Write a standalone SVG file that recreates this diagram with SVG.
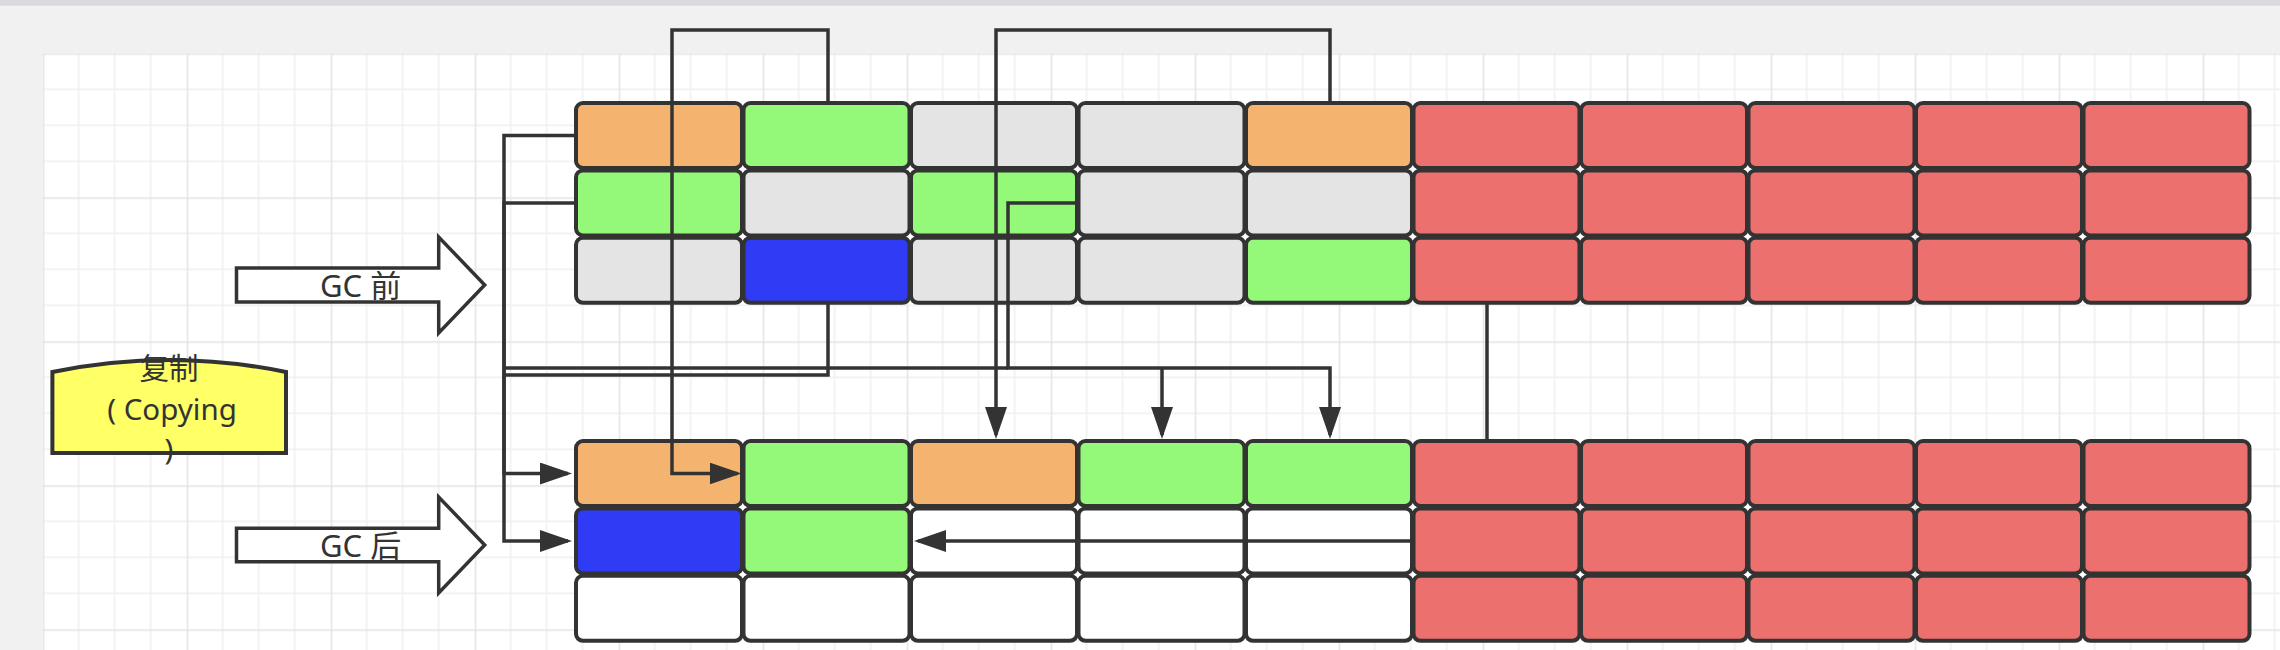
<svg xmlns="http://www.w3.org/2000/svg" width="2280" height="650" viewBox="0 0 2280 650">
<style>
.c{stroke:#333;stroke-width:4}
.or{fill:#F4B470}.gr{fill:#94F978}.gy{fill:#E4E4E4}.bl{fill:#2F3BF5}.rd{fill:#EC706E}.wh{fill:#FFFFFF}
.ln{fill:none;stroke:#333;stroke-width:3.5;stroke-linejoin:miter}
.t{font-family:'Noto Sans','Noto Sans CJK SC',sans-serif;fill:#333;font-size:31px;text-anchor:middle}
.t2{font-size:29.5px}
.ba{fill:#fff;stroke:#333;stroke-width:3.5}
</style>
<defs>
<pattern id="grid" x="42.7" y="53.3" width="144" height="144" patternUnits="userSpaceOnUse">
<rect width="144" height="144" fill="#fff"/>
<path d="M36,0V144M72,0V144M108,0V144M0,36H144M0,72H144M0,108H144" stroke="#efefef" stroke-width="1.5"/>
<path d="M0.75,0V144M0,0.75H144" stroke="#e4e4e4" stroke-width="1.5"/>
</pattern>
<marker id="arr" markerUnits="userSpaceOnUse" markerWidth="34" markerHeight="24" refX="28" refY="11" orient="auto">
<path d="M0,0L32,11L0,22Z" fill="#333"/>
</marker>
</defs>
<g id="background">
<rect width="2280" height="650" fill="#f1f1f1"/>
<rect width="2280" height="5.7" fill="#dadade"/>
<rect x="42.7" y="53.3" width="2237.3" height="596.7" fill="url(#grid)"/>
</g>
<g id="label-copying">
<path d="M52.4,372Q169,348 286,372V453H52.4Z" fill="#FFFF66" stroke="#333" stroke-width="4"/>
<text class="t t2"><tspan x="169" y="379">复制</tspan><tspan x="172" y="419.5">( Copying</tspan><tspan x="169" y="460">)</tspan></text>
</g>
<g id="gc-before">
<path class="ba" d="M236.5,268H438.7V237L484.7,285L438.7,333V302H236.5Z"/>
<text class="t" x="360.6" y="297">GC 前</text>
</g>
<g id="gc-after">
<path class="ba" d="M236.5,528.3H438.7V497L484.7,545L438.7,593V561.7H236.5Z"/>
<text class="t" x="360.6" y="557">GC 后</text>
</g>
<g id="before">
<g id="b00"><rect class="c or" x="576" y="103" width="166" height="65" rx="7"/></g>
<g id="b01"><rect class="c gr" x="743.5" y="103" width="166" height="65" rx="7"/></g>
<g id="b02"><rect class="c gy" x="911" y="103" width="166" height="65" rx="7"/></g>
<g id="b03"><rect class="c gy" x="1078.5" y="103" width="166" height="65" rx="7"/></g>
<g id="b04"><rect class="c or" x="1246" y="103" width="166" height="65" rx="7"/></g>
<g id="b05"><rect class="c rd" x="1413.5" y="103" width="166" height="65" rx="7"/></g>
<g id="b06"><rect class="c rd" x="1581" y="103" width="166" height="65" rx="7"/></g>
<g id="b07"><rect class="c rd" x="1748.5" y="103" width="166" height="65" rx="7"/></g>
<g id="b08"><rect class="c rd" x="1916" y="103" width="166" height="65" rx="7"/></g>
<g id="b09"><rect class="c rd" x="2083.5" y="103" width="166" height="65" rx="7"/></g>
<g id="b10"><rect class="c gr" x="576" y="170.4" width="166" height="65" rx="7"/></g>
<g id="b11"><rect class="c gy" x="743.5" y="170.4" width="166" height="65" rx="7"/></g>
<g id="b12"><rect class="c gr" x="911" y="170.4" width="166" height="65" rx="7"/></g>
<g id="b13"><rect class="c gy" x="1078.5" y="170.4" width="166" height="65" rx="7"/></g>
<g id="b14"><rect class="c gy" x="1246" y="170.4" width="166" height="65" rx="7"/></g>
<g id="b15"><rect class="c rd" x="1413.5" y="170.4" width="166" height="65" rx="7"/></g>
<g id="b16"><rect class="c rd" x="1581" y="170.4" width="166" height="65" rx="7"/></g>
<g id="b17"><rect class="c rd" x="1748.5" y="170.4" width="166" height="65" rx="7"/></g>
<g id="b18"><rect class="c rd" x="1916" y="170.4" width="166" height="65" rx="7"/></g>
<g id="b19"><rect class="c rd" x="2083.5" y="170.4" width="166" height="65" rx="7"/></g>
<g id="b20"><rect class="c gy" x="576" y="237.8" width="166" height="65" rx="7"/></g>
<g id="b21"><rect class="c bl" x="743.5" y="237.8" width="166" height="65" rx="7"/></g>
<g id="b22"><rect class="c gy" x="911" y="237.8" width="166" height="65" rx="7"/></g>
<g id="b23"><rect class="c gy" x="1078.5" y="237.8" width="166" height="65" rx="7"/></g>
<g id="b24"><rect class="c gr" x="1246" y="237.8" width="166" height="65" rx="7"/></g>
<g id="b25"><rect class="c rd" x="1413.5" y="237.8" width="166" height="65" rx="7"/></g>
<g id="b26"><rect class="c rd" x="1581" y="237.8" width="166" height="65" rx="7"/></g>
<g id="b27"><rect class="c rd" x="1748.5" y="237.8" width="166" height="65" rx="7"/></g>
<g id="b28"><rect class="c rd" x="1916" y="237.8" width="166" height="65" rx="7"/></g>
<g id="b29"><rect class="c rd" x="2083.5" y="237.8" width="166" height="65" rx="7"/></g>
</g>
<g id="after">
<g id="a00"><rect class="c or" x="576" y="441" width="166" height="65" rx="7"/></g>
<g id="a01"><rect class="c gr" x="743.5" y="441" width="166" height="65" rx="7"/></g>
<g id="a02"><rect class="c or" x="911" y="441" width="166" height="65" rx="7"/></g>
<g id="a03"><rect class="c gr" x="1078.5" y="441" width="166" height="65" rx="7"/></g>
<g id="a04"><rect class="c gr" x="1246" y="441" width="166" height="65" rx="7"/></g>
<g id="a05"><rect class="c rd" x="1413.5" y="441" width="166" height="65" rx="7"/></g>
<g id="a06"><rect class="c rd" x="1581" y="441" width="166" height="65" rx="7"/></g>
<g id="a07"><rect class="c rd" x="1748.5" y="441" width="166" height="65" rx="7"/></g>
<g id="a08"><rect class="c rd" x="1916" y="441" width="166" height="65" rx="7"/></g>
<g id="a09"><rect class="c rd" x="2083.5" y="441" width="166" height="65" rx="7"/></g>
<g id="a10"><rect class="c bl" x="576" y="508.4" width="166" height="65" rx="7"/></g>
<g id="a11"><rect class="c gr" x="743.5" y="508.4" width="166" height="65" rx="7"/></g>
<g id="a12"><rect class="c wh" x="911" y="508.4" width="166" height="65" rx="7"/></g>
<g id="a13"><rect class="c wh" x="1078.5" y="508.4" width="166" height="65" rx="7"/></g>
<g id="a14"><rect class="c wh" x="1246" y="508.4" width="166" height="65" rx="7"/></g>
<g id="a15"><rect class="c rd" x="1413.5" y="508.4" width="166" height="65" rx="7"/></g>
<g id="a16"><rect class="c rd" x="1581" y="508.4" width="166" height="65" rx="7"/></g>
<g id="a17"><rect class="c rd" x="1748.5" y="508.4" width="166" height="65" rx="7"/></g>
<g id="a18"><rect class="c rd" x="1916" y="508.4" width="166" height="65" rx="7"/></g>
<g id="a19"><rect class="c rd" x="2083.5" y="508.4" width="166" height="65" rx="7"/></g>
<g id="a20"><rect class="c wh" x="576" y="575.8" width="166" height="65" rx="7"/></g>
<g id="a21"><rect class="c wh" x="743.5" y="575.8" width="166" height="65" rx="7"/></g>
<g id="a22"><rect class="c wh" x="911" y="575.8" width="166" height="65" rx="7"/></g>
<g id="a23"><rect class="c wh" x="1078.5" y="575.8" width="166" height="65" rx="7"/></g>
<g id="a24"><rect class="c wh" x="1246" y="575.8" width="166" height="65" rx="7"/></g>
<g id="a25"><rect class="c rd" x="1413.5" y="575.8" width="166" height="65" rx="7"/></g>
<g id="a26"><rect class="c rd" x="1581" y="575.8" width="166" height="65" rx="7"/></g>
<g id="a27"><rect class="c rd" x="1748.5" y="575.8" width="166" height="65" rx="7"/></g>
<g id="a28"><rect class="c rd" x="1916" y="575.8" width="166" height="65" rx="7"/></g>
<g id="a29"><rect class="c rd" x="2083.5" y="575.8" width="166" height="65" rx="7"/></g>
</g>
<g id="connectors">
<path class="ln" d="M576,135.5H504V541H568" marker-end="url(#arr)"/>
<path class="ln" d="M576,203H504V473.5H568" marker-end="url(#arr)"/>
<path class="ln" d="M504,368H1008"/>
<path class="ln" d="M828,303V375H504"/>
<path class="ln" d="M828,103V30H672V473.5H737.5" marker-end="url(#arr)"/>
<path class="ln" d="M1330,103V30H996V435" marker-end="url(#arr)"/>
<path class="ln" d="M1077,203H1008V368H1330V435" marker-end="url(#arr)"/>
<path class="ln" d="M1162,368V435" marker-end="url(#arr)"/>
<path class="ln" d="M1413.5,541H918" marker-end="url(#arr)"/>
<path class="ln" d="M1487,303V441"/>
</g>
</svg>
